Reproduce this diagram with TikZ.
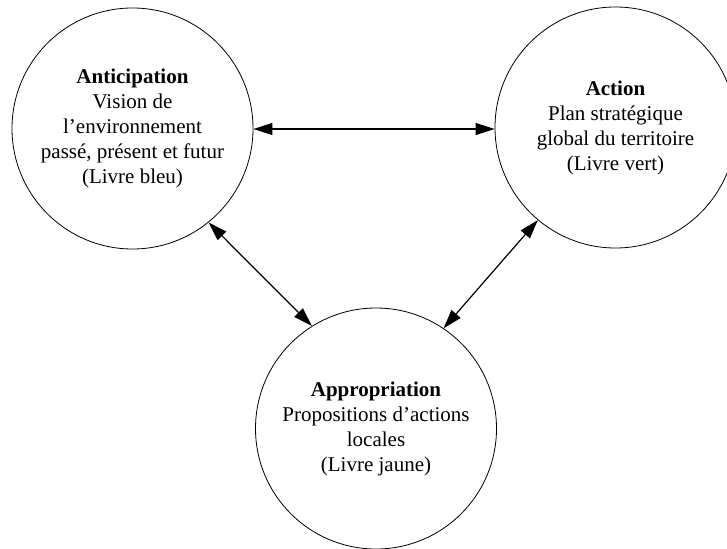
\documentclass[tikz,border=0pt]{standalone}
\usepackage{fontspec}
\setmainfont{Liberation Serif}
\usetikzlibrary{arrows.meta}
\begin{document}
\begin{tikzpicture}[x=1pt,y=-1pt,
  bubble/.style={draw=black, line width=0.8pt, circle, minimum size=241pt, inner sep=0pt, align=center,
    font=\fontsize{21}{25}\selectfont},
  link/.style={line width=1.2pt, {Triangle[length=19pt,width=12pt]}-{Triangle[length=19pt,width=12pt]}, shorten <=0pt, shorten >=0pt}]
\useasboundingbox (0,0) rectangle (727,548);
\clip (0,0) rectangle (727,548);
\node[bubble] (L) at (132.5,128.5) {\textbf{Anticipation}\\Vision de\\l’environnement\\passé, présent et futur\\(Livre bleu)};
\node[bubble] (R) at (615.5,127.5) {\textbf{Action}\\Plan stratégique\\global du territoire\\(Livre vert)};
\node[bubble] (B) at (376,428.5) {\textbf{Appropriation}\\Propositions d’actions\\locales\\(Livre jaune)};
\draw[link] (L.east |- 0,129) coordinate (h1) -- (R.west |- 0,129);
\draw[link] (L.-51.6) -- (B.122.2);
\draw[link] (R.230.6) -- (B.56.4);
\end{tikzpicture}
\end{document}
